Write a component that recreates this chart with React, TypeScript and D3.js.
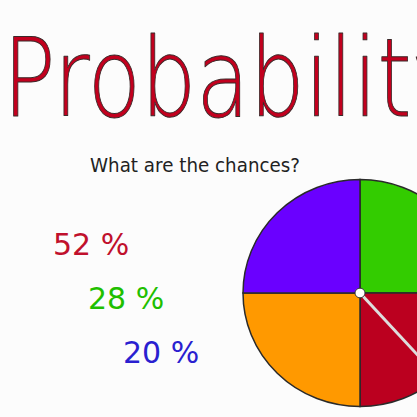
import React from "react";
import * as d3 from "d3";

// spinner: four equal quadrants, clockwise from 12 o'clock
const sliceNames = ["green", "red", "orange", "purple"];
const sliceValues = [25, 25, 25, 25];
const sliceColors = ["#33cc00", "#bb001f", "#ff9900", "#6a00ff"];
const spinnerAngle = 138; // degrees clockwise from top

const percentLabels = ["52 %", "28 %", "20 %"];
const percentColors = ["#c0102c", "#1fbf00", "#2a1fd0"];

const title = "Probability";
const subtitle = "What are the chances?";

const W = 417;
const H = 417;

const App = () => {
  const cx = 360;
  const cy = 293;
  const r = 117;

  const pie = d3
    .pie<number>()
    .sort(null)
    .value((d) => d);
  const arcs = pie(sliceValues);
  const arc = d3.arc<d3.PieArcDatum<number>>().innerRadius(0).outerRadius(r);

  const a = (spinnerAngle * Math.PI) / 180;
  const needleX = Math.sin(a) * r;
  const needleY = -Math.cos(a) * r;

  const rows = d3
    .scalePoint<string>()
    .domain(percentLabels)
    .range([255, 363]);
  const cols = d3
    .scalePoint<string>()
    .domain(percentLabels)
    .range([53, 123]);

  return (
    <div style={{ position: "fixed", left: 0, top: 0 }}>
      <svg width={W} height={H} style={{ display: "block" }}>
        <rect width={W} height={H} fill="#fcfcfc" />
        <text
          x={3}
          y={116}
          fontFamily="DejaVu Sans"
          fontWeight={200}
          fontSize={108}
          textLength={460}
          lengthAdjust="spacingAndGlyphs"
          fill="#c2001e"
          stroke="#3a2a2a"
          strokeWidth={1}
          strokeLinejoin="round"
        >
          {title}
        </text>
        <text
          x={90}
          y={172}
          fontFamily="DejaVu Sans"
          fontSize={19}
          textLength={210}
          lengthAdjust="spacingAndGlyphs"
          fill="#222"
        >
          {subtitle}
        </text>
        {percentLabels.map((t, i) => (
          <text
            key={t}
            x={cols(t)}
            y={rows(t)}
            fontFamily="DejaVu Sans"
            fontSize={30}
            fill={percentColors[i]}
          >
            {t}
          </text>
        ))}
        <g transform={`translate(${cx},${cy}) scale(1,0.97)`}>
          {arcs.map((d, i) => (
            <path
              key={sliceNames[i]}
              d={arc(d) || ""}
              fill={sliceColors[i]}
              stroke="#2a2a2a"
              strokeWidth={1.5}
            />
          ))}
          <line
            x1={0}
            y1={0}
            x2={needleX}
            y2={needleY}
            stroke="#dddddd"
            strokeWidth={3}
          />
          <circle r={5} fill="#fff" stroke="#333" strokeWidth={1} />
        </g>
      </svg>
    </div>
  );
};

export default App;
